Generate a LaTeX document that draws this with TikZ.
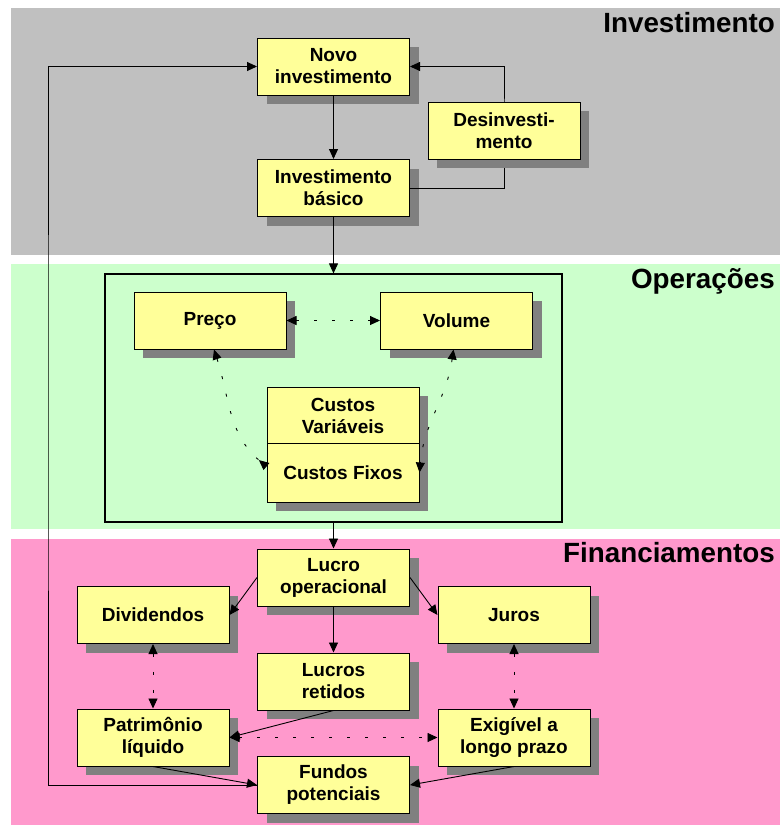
\documentclass[tikz,border=0pt]{standalone}
\usepackage{fontspec}
\setmainfont{Liberation Sans}
\usetikzlibrary{arrows.meta,shadows}

\definecolor{bandgray}{HTML}{C0C0C0}
\definecolor{bandgreen}{HTML}{CCFFCC}
\definecolor{bandpink}{HTML}{FF99CC}
\definecolor{boxyellow}{HTML}{FFFF99}
\definecolor{shadowgray}{HTML}{808080}

\begin{document}
\begin{tikzpicture}[x=1pt,y=-1pt,
  box/.style={draw=black, line width=1pt, fill=boxyellow,
    minimum width=152pt, minimum height=57pt, inner sep=0pt, align=center,
    font=\fontsize{19}{22}\selectfont\bfseries,
    drop shadow={shadow xshift=9pt, shadow yshift=-9pt, fill=shadowgray, opacity=1}},
  bandtitle/.style={anchor=base east, inner sep=0pt,
    font=\fontsize{27.8}{30}\selectfont\bfseries},
  wire/.style={draw=black, line width=0.9pt, -{Triangle[length=10pt,width=9pt]}},
  dotwire/.style={draw=black, line width=0.9pt, dash pattern=on 3pt off 15pt,
    {Triangle[length=10pt,width=9pt]}-{Triangle[length=10pt,width=9pt]}},
]
\useasboundingbox (0,0) rectangle (780,825);

% three horizontal bands
\fill[bandgray]  (11,8)   rectangle (780,255);
\fill[bandgreen] (11,264) rectangle (780,529);
\fill[bandpink]  (11,539) rectangle (780,825);

\node[bandtitle] (tinv) at (775,32)  {Investimento};
\node[bandtitle] (tops) at (775,288) {Operações};
\node[bandtitle] (tfin) at (775,562) {Financiamentos};

% investment block
\node[box] (novo)   at (333.5,66.5) {Novo\\investimento};
\node[box] (basico) at (333.5,188)  {Investimento\\básico};
\coordinate (dturn) at (504,130);
\draw[wire] (basico.east) -| (dturn) |- (novo.east);
\node[box] (desinv) at (504,130.5) {Desinvesti-\\mento};
\draw[wire] (novo.south) -- (basico.north);

% operations block
\node[draw=black, line width=1.2pt, minimum width=457pt, minimum height=248pt,
  inner sep=0pt] (ops) at (333.5,398) {};
\node[box] (preco)  at (210,320.5)   {Preço};
\node[box] (volume) at (456.5,320.5) {Volume};
\node[box] (cv) at (343,415.5) {Custos\\Variáveis};
\node[box, minimum height=59pt] (cf) at (343,472.5) {Custos Fixos};
\draw[wire] (basico.south) -- (ops.north);

\draw[dotwire] (preco.east) -- (volume.west);
\draw[dotwire, {Triangle[length=10pt,width=9pt]}-{Triangle[length=10pt,width=9pt,reversed]}]
  ([xshift=4pt]preco.south) to[out=-72, in=140] ([yshift=6pt]cf.west);
\draw[dotwire] ([xshift=-3pt]volume.south) to[out=-98, in=85] (cf.east);

% financing block
\node[box] (lucro)   at (333.5,577.5) {Lucro\\operacional};
\node[box] (divid)   at (153,615)     {Dividendos};
\node[box] (juros)   at (514,615)     {Juros};
\node[box] (retidos) at (333.5,681.5) {Lucros\\retidos};
\node[box] (patrim)  at (153,737.5)   {Patrimônio\\líquido};
\node[box] (exig)    at (514,737.5)   {Exigível a\\longo prazo};
\node[box] (fundos)  at (333.5,785)   {Fundos\\potenciais};

\draw[wire] (ops.south) -- (lucro.north);
\draw[wire] (lucro.west) -- (divid.east);
\draw[wire] (lucro.east) -- (juros.west);
\draw[wire] (lucro.south) -- (retidos.north);
\draw[wire] (retidos.south) -- (patrim.east);
\draw[wire] (patrim.south) -- (fundos.west);
\draw[wire] (exig.south) -- (fundos.east);

\draw[dotwire] (divid.south) -- (patrim.north);
\draw[dotwire] (juros.south) -- (exig.north);
\draw[dotwire] (patrim.east) -- (exig.west);

% feedback of potential funds into new investment
\coordinate (rail) at (48,400);
\draw[wire] (fundos.west) -| (rail) |- (novo.west);
\end{tikzpicture}
\end{document}
